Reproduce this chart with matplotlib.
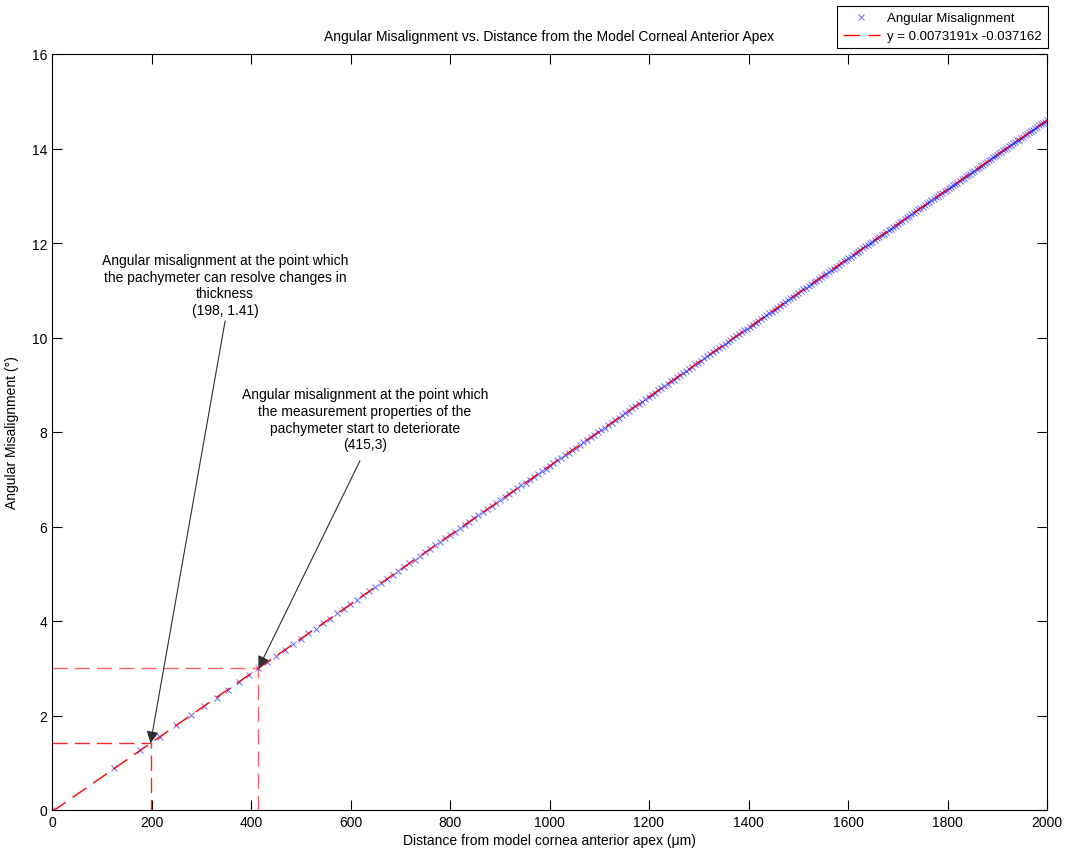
import matplotlib.pyplot as plt

plt.rcParams['font.family'] = ['Liberation Sans', 'DejaVu Sans']

# measured data: distance from apex (um) and angular misalignment (deg)
distance = [0, 125, 176.8, 216.5, 250, 279.5, 306.2, 330.7, 353.6, 375, 395.3, 414.6, 433.0, 450.7,
            467.7, 484.1, 500, 515.4, 530.3, 544.9, 559.0, 572.8, 586.3, 599.5, 612.4, 625, 637.4,
            649.5, 661.4, 673.1, 684.7, 696.0, 707.1, 718.1, 728.9, 739.5, 750, 760.3, 770.6, 780.6,
            790.6, 800.4, 810.1, 819.7, 829.2, 838.5, 847.8, 857.0, 866.0, 875, 883.9, 892.7, 901.4,
            910.0, 918.6, 927.0, 935.4, 943.7, 952.0, 960.2, 968.2, 976.3, 984.2, 992.2, 1000,
            1007.8, 1015.5, 1023.2, 1030.8, 1038.3, 1045.8, 1053.2, 1060.7, 1068.0, 1075.3, 1082.5,
            1089.7, 1096.9, 1104.0, 1111.0, 1118.0, 1125, 1131.9, 1138.8, 1145.6, 1152.4, 1159.2,
            1165.9, 1172.6, 1179.2, 1185.9, 1192.4, 1199.0, 1205.5, 1211.9, 1218.4, 1224.7, 1231.1,
            1237.4, 1243.7, 1250, 1256.2, 1262.4, 1268.6, 1274.7, 1280.9, 1287.0, 1293.0, 1299.0,
            1305.0, 1311.0, 1317.0, 1322.9, 1328.8, 1334.6, 1340.5, 1346.3, 1352.1, 1357.9, 1363.6,
            1369.3, 1375, 1380.7, 1386.3, 1391.9, 1397.5, 1403.1, 1408.7, 1414.2, 1419.7, 1425.2,
            1430.7, 1436.1, 1441.6, 1447.0, 1452.4, 1457.7, 1463.1, 1468.4, 1473.7, 1479.0, 1484.3,
            1489.5, 1494.8, 1500, 1505.2, 1510.4, 1515.5, 1520.7, 1525.8, 1530.9, 1536.0, 1541.1,
            1546.2, 1551.2, 1556.2, 1561.2, 1566.2, 1571.2, 1576.2, 1581.1, 1586.1, 1591.0, 1595.9,
            1600.8, 1605.6, 1610.5, 1615.4, 1620.2, 1625, 1629.8, 1634.6, 1639.4, 1644.1, 1648.9,
            1653.6, 1658.3, 1663.0, 1667.7, 1672.4, 1677.1, 1681.7, 1686.3, 1691.0, 1695.6, 1700.2,
            1704.8, 1709.4, 1713.9, 1718.5, 1723.0, 1727.5, 1732.1, 1736.6, 1741.0, 1745.5, 1750,
            1754.5, 1758.9, 1763.3, 1767.8, 1772.2, 1776.6, 1781.0, 1785.4, 1789.7, 1794.1, 1798.4,
            1802.8, 1807.1, 1811.4, 1815.7, 1820.0, 1824.3, 1828.6, 1832.9, 1837.1, 1841.4, 1845.6,
            1849.8, 1854.0, 1858.3, 1862.5, 1866.6, 1870.8, 1875, 1879.2, 1883.3, 1887.5, 1891.6,
            1895.7, 1899.8, 1903.9, 1908.0, 1912.1, 1916.2, 1920.3, 1924.3, 1928.4, 1932.5, 1936.5,
            1940.5, 1944.5, 1948.6, 1952.6, 1956.6, 1960.5, 1964.5, 1968.5, 1972.5, 1976.4, 1980.4,
            1984.3, 1988.3, 1992.2, 1996.1, 2000]
misalign = [0.00, 0.88, 1.26, 1.55, 1.79, 2.01, 2.20, 2.38, 2.55, 2.71, 2.86, 3.00, 3.13, 3.26,
            3.39, 3.51, 3.62, 3.74, 3.84, 3.95, 4.05, 4.16, 4.25, 4.35, 4.45, 4.54, 4.63,
            4.72, 4.80, 4.89, 4.97, 5.06, 5.14, 5.22, 5.30, 5.38, 5.45, 5.53, 5.60, 5.68,
            5.75, 5.82, 5.89, 5.96, 6.03, 6.10, 6.17, 6.24, 6.30, 6.37, 6.43, 6.50, 6.56,
            6.62, 6.69, 6.75, 6.81, 6.87, 6.93, 6.99, 7.05, 7.11, 7.17, 7.22, 7.28,
            7.34, 7.40, 7.45, 7.51, 7.56, 7.62, 7.67, 7.73, 7.78, 7.83, 7.89,
            7.94, 7.99, 8.04, 8.09, 8.15, 8.20, 8.25, 8.30, 8.35, 8.40, 8.45,
            8.50, 8.55, 8.59, 8.64, 8.69, 8.74, 8.79, 8.83, 8.88, 8.93, 8.97,
            9.02, 9.07, 9.11, 9.16, 9.20, 9.25, 9.29, 9.34, 9.38, 9.43, 9.47,
            9.51, 9.56, 9.60, 9.65, 9.69, 9.73, 9.77, 9.82, 9.86, 9.90, 9.94,
            9.98, 10.03, 10.07, 10.11, 10.15, 10.19, 10.23, 10.27, 10.31, 10.35, 10.39,
            10.43, 10.47, 10.51, 10.55, 10.59, 10.63, 10.67, 10.71, 10.75, 10.79, 10.83,
            10.86, 10.90, 10.94, 10.98, 11.02, 11.05, 11.09, 11.13, 11.17, 11.20, 11.24,
            11.28, 11.32, 11.35, 11.39, 11.43, 11.46, 11.50, 11.54, 11.57, 11.61, 11.64,
            11.68, 11.71, 11.75, 11.79, 11.82, 11.86, 11.89, 11.93, 11.96, 12.00, 12.03,
            12.07, 12.10, 12.13, 12.17, 12.20, 12.24, 12.27, 12.30, 12.34, 12.37, 12.41,
            12.44, 12.47, 12.51, 12.54, 12.57, 12.61, 12.64, 12.67, 12.71, 12.74, 12.77,
            12.80, 12.84, 12.87, 12.90, 12.93, 12.97, 13.00, 13.03, 13.06, 13.09, 13.13,
            13.16, 13.19, 13.22, 13.25, 13.28, 13.32, 13.35, 13.38, 13.41, 13.44, 13.47,
            13.50, 13.53, 13.56, 13.59, 13.62, 13.66, 13.69, 13.72, 13.75, 13.78, 13.81,
            13.84, 13.87, 13.90, 13.93, 13.96, 13.99, 14.02, 14.05, 14.08, 14.11, 14.14,
            14.17, 14.19, 14.22, 14.25, 14.28, 14.31, 14.34, 14.37, 14.40, 14.43, 14.46,
            14.49, 14.52, 14.54, 14.57, 14.60]

# linear fit reported in the legend
slope = 0.0073191
intercept = -0.037162
fit_x = [0, 2000]

# marked points
resolve_pt = (198, 1.41)
deteriorate_pt = (415, 3.0)

fig = plt.figure(figsize=(10.65, 8.54), dpi=100)
ax = fig.add_axes([52 / 1065, 43 / 854, 995 / 1065, 756 / 854])

ax.plot(distance, misalign, 'x', color='blue', markersize=5, markeredgewidth=0.7,
        alpha=0.6, label='Angular Misalignment')
ax.plot(fit_x, [slope * v + intercept for v in fit_x], color='red', lw=1,
        dashes=(12, 6), label='y = 0.0073191x -0.037162')

# guide lines to the two marked points
ax.plot([0, resolve_pt[0], resolve_pt[0]], [resolve_pt[1], resolve_pt[1], 0],
        color='red', lw=1, dashes=(11, 5), alpha=0.85)
ax.plot([0, deteriorate_pt[0], deteriorate_pt[0]], [deteriorate_pt[1], deteriorate_pt[1], 0],
        color='red', lw=1, dashes=(11, 5), alpha=0.6)

arrow = dict(arrowstyle='-|>', color='#303030', lw=0.8, mutation_scale=18, shrinkA=0, shrinkB=0)
ax.annotate('', xy=resolve_pt, xytext=(348, 10.35), arrowprops=arrow)
ax.annotate('', xy=deteriorate_pt, xytext=(619, 7.39), arrowprops=arrow)

ax.text(348, 11.11, 'Angular misalignment at the point which\nthe pachymeter can resolve changes in\n'
        'thickness\n(198, 1.41)', ha='center', va='center', fontsize=10, linespacing=1.25)
ax.text(629, 8.27, 'Angular misalignment at the point which\nthe measurement properties of the\n'
        'pachymeter start to deteriorate\n(415,3)', ha='center', va='center', fontsize=10,
        linespacing=1.25)

ax.set_xlim(0, 2000)
ax.set_ylim(0, 16)
ax.set_xticks(range(0, 2001, 200))
ax.set_yticks(range(0, 17, 2))
ax.tick_params(direction='in', top=True, right=True, length=7, labelsize=10)
ax.set_title('Angular Misalignment vs. Distance from the Model Corneal Anterior Apex',
             fontsize=10, pad=10)
ax.set_xlabel('Distance from model cornea anterior apex (μm)', fontsize=10, labelpad=3)
ax.set_ylabel('Angular Misalignment (°)', fontsize=10, labelpad=9)

leg = fig.legend(loc='upper right', bbox_to_anchor=(1048 / 1065, 1 - 7 / 854), fontsize=9.5,
                 fancybox=False, edgecolor='black', framealpha=1, handlelength=2.8,
                 handletextpad=0.6, borderpad=0.45, labelspacing=0.45, borderaxespad=0)
leg.get_frame().set_linewidth(0.8)

fig.savefig('out.png', dpi=100)
